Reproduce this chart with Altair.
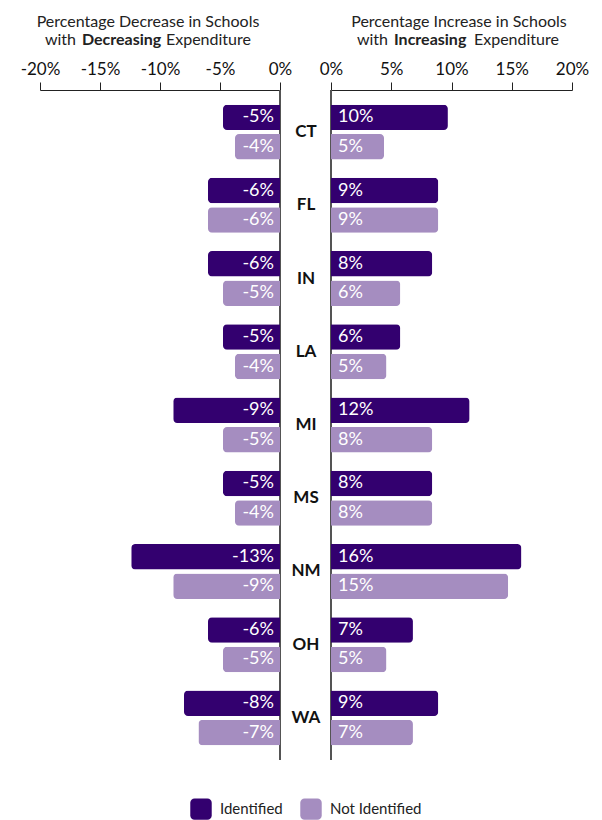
import altair as alt
import pandas as pd

states = ["CT", "FL", "IN", "LA", "MI", "MS", "NM", "OH", "WA"]
groups = ["Identified", "Not Identified"]
colors = ["#33006F", "#A58DC0"]

dec_identified = [-4.75, -6.0, -6.0, -4.75, -8.9, -4.75, -12.4, -6.0, -8.0]
dec_not_identified = [-3.75, -6.0, -4.75, -3.75, -4.75, -3.75, -8.9, -4.75, -6.8]
inc_identified = [9.7, 8.9, 8.4, 5.75, 11.5, 8.4, 15.8, 6.8, 8.9]
inc_not_identified = [4.4, 8.9, 5.75, 4.6, 8.4, 8.4, 14.7, 4.6, 6.8]

dec_identified_labels = ["-5%", "-6%", "-6%", "-5%", "-9%", "-5%", "-13%", "-6%", "-8%"]
dec_not_identified_labels = ["-4%", "-6%", "-5%", "-4%", "-5%", "-4%", "-9%", "-5%", "-7%"]
inc_identified_labels = ["10%", "9%", "8%", "6%", "12%", "8%", "16%", "7%", "9%"]
inc_not_identified_labels = ["5%", "9%", "6%", "5%", "8%", "8%", "15%", "5%", "7%"]

left_ticks = [-20, -15, -10, -5, 0]
right_ticks = [0, 5, 10, 15, 20]

left_header_1 = "Percentage Decrease in Schools"
left_header_2 = ["with", "Decreasing", "Expenditure"]
right_header_1 = "Percentage Increase in Schools"
right_header_2 = ["with", "Increasing", "Expenditure"]

FONT = "Lato"
HFS = 16


def make_df(ident, not_ident, lab_i, lab_n):
    rows = []
    for s, v, l in zip(states, ident, lab_i):
        rows.append({"state": s, "group": groups[0], "value": v, "label": l})
    for s, v, l in zip(states, not_ident, lab_n):
        rows.append({"state": s, "group": groups[1], "value": v, "label": l})
    return pd.DataFrame(rows)


left_df = make_df(dec_identified, dec_not_identified, dec_identified_labels, dec_not_identified_labels)
right_df = make_df(inc_identified, inc_not_identified, inc_identified_labels, inc_not_identified_labels)

y_enc = alt.Y("state:N", sort=states, axis=None,
              scale=alt.Scale(paddingInner=0.25, paddingOuter=0.2))
yoff = alt.YOffset("group:N", sort=groups, scale=alt.Scale(paddingInner=0.136))

rounded_square = ("M-0.6,-1H0.6A0.4,0.4 0 0 1 1,-0.6V0.6A0.4,0.4 0 0 1 0.6,1"
                  "H-0.6A0.4,0.4 0 0 1 -1,0.6V-0.6A0.4,0.4 0 0 1 -0.6,-1Z")

color = alt.Color("group:N", scale=alt.Scale(domain=groups, range=colors),
                  legend=alt.Legend(title=None, orient="none", direction="horizontal",
                                    legendX=150, legendY=708,
                                    symbolType=rounded_square, symbolSize=460,
                                    symbolStrokeWidth=0, symbolOpacity=1,
                                    labelFont=FONT, labelFontSize=15, labelColor="#222",
                                    columnPadding=17, labelOffset=8, padding=0))


def axis(vals):
    return alt.Axis(orient="top", values=vals, labelExpr="datum.value + '%'", title=None,
                    grid=False, tickSize=8, tickColor="#222", domainColor="#222",
                    labelFont=FONT, labelFontSize=17, labelColor="#111", labelPadding=4,
                    labelFlush=False, labelOverlap=False)


def header(lines1, lines2, xc, x_with_end, x_bold, x_rest):
    h1 = alt.Chart(pd.DataFrame({"t": [lines1]})).mark_text(
        font=FONT, fontSize=HFS, color="#222", align="center"
    ).encode(text="t:N", x=alt.value(xc), y=alt.value(-68))
    h2a = alt.Chart(pd.DataFrame({"t": [lines2[0]]})).mark_text(
        font=FONT, fontSize=HFS, color="#222", align="right"
    ).encode(text="t:N", x=alt.value(x_with_end), y=alt.value(-50))
    h2b = alt.Chart(pd.DataFrame({"t": [lines2[1]]})).mark_text(
        font=FONT, fontSize=HFS, fontWeight="bold", color="#222", align="left"
    ).encode(text="t:N", x=alt.value(x_bold), y=alt.value(-50))
    h2c = alt.Chart(pd.DataFrame({"t": [lines2[2]]})).mark_text(
        font=FONT, fontSize=HFS, color="#222", align="left"
    ).encode(text="t:N", x=alt.value(x_rest), y=alt.value(-50))
    return [h1, h2a, h2b, h2c]


left_bars = alt.Chart(left_df).mark_bar(
    cornerRadiusTopLeft=4, cornerRadiusBottomLeft=4, x2Offset=-4
).encode(
    x=alt.X("value:Q", scale=alt.Scale(domain=[-20, 0]), axis=axis(left_ticks)),
    y=y_enc, yOffset=yoff, color=color,
)
left_text = alt.Chart(left_df).mark_text(
    align="right", dx=-6, color="white", font=FONT, fontSize=18
).encode(x=alt.datum(0), y=y_enc, yOffset=yoff, text="label:N")
left_rule = alt.Chart(left_df).mark_rule(color="#555", strokeWidth=1.5).encode(x=alt.datum(0))

left = alt.layer(left_rule, left_bars, left_text,
                 *header(left_header_1, left_header_2, 108, 36, 42, 126)
                 ).properties(width=240, height=670)

right_bars = alt.Chart(right_df).mark_bar(
    cornerRadiusTopRight=4, cornerRadiusBottomRight=4, x2Offset=4
).encode(
    x=alt.X("value:Q", scale=alt.Scale(domain=[0, 20]), axis=axis(right_ticks)),
    y=y_enc, yOffset=yoff, color=color,
)
right_text = alt.Chart(right_df).mark_text(
    align="left", dx=7, color="white", font=FONT, fontSize=18
).encode(x=alt.datum(0), y=y_enc, yOffset=yoff, text="label:N")
right_rule = alt.Chart(right_df).mark_rule(color="#555", strokeWidth=1.5).encode(x=alt.datum(0))
state_text = alt.Chart(pd.DataFrame({"state": states})).mark_text(
    font=FONT, fontSize=17, fontWeight="bold", color="#111", align="center"
).encode(x=alt.value(-25), y=y_enc, text="state:N")

right = alt.layer(right_rule, right_bars, right_text, state_text,
                  *header(right_header_1, right_header_2, 128, 57, 63, 143)
                  ).properties(width=241, height=670)

chart = alt.hconcat(left, right, spacing=51, bounds="flush").properties(
    padding={"left": 12, "top": 6, "right": 5, "bottom": 5}
).configure_view(stroke=None)

chart.save("out.html", embed_options={"renderer": "svg", "actions": False})
